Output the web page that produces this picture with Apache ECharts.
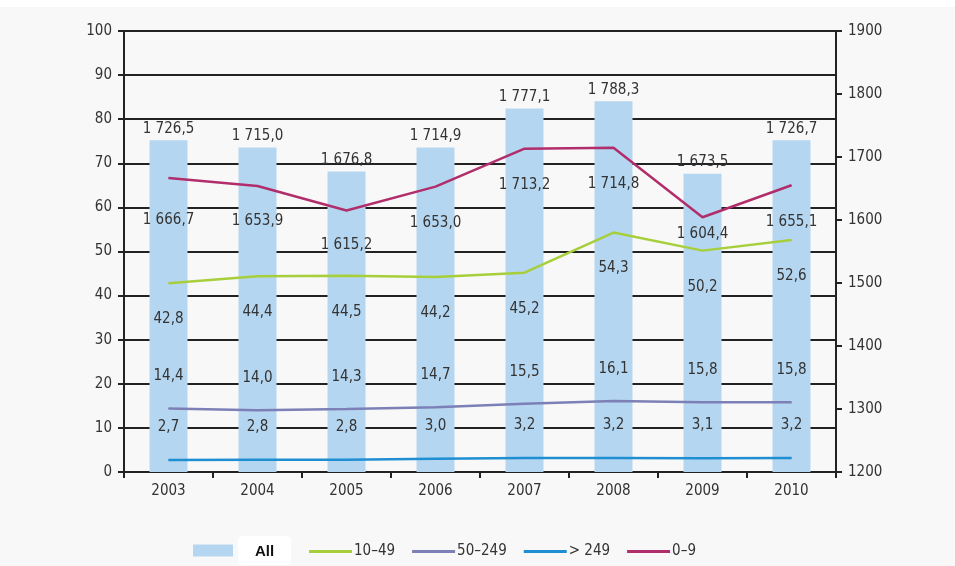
<!DOCTYPE html>
<html>
<head>
<meta charset="utf-8">
<script src="https://cdn.jsdelivr.net/npm/echarts@6/dist/echarts.min.js"></script>
<style>
  html, body { margin: 0; padding: 0; background: #f8f8f8; }
  #chart { width: 955px; height: 566px; }
</style>
</head>
<body>
<div id="chart"></div>
<script>
// Years on the category axis
const years = ['2003', '2004', '2005', '2006', '2007', '2008', '2009', '2010'];

// Totals (bars, right axis)
const allValues = [1726.5, 1715.0, 1676.8, 1714.9, 1777.1, 1788.3, 1673.5, 1726.7];

// Size classes (lines)
const size0to9 = [1666.7, 1653.9, 1615.2, 1653.0, 1713.2, 1714.8, 1604.4, 1655.1]; // right axis
const size10to49 = [42.8, 44.4, 44.5, 44.2, 45.2, 54.3, 50.2, 52.6];             // left axis
const size50to249 = [14.4, 14.0, 14.3, 14.7, 15.5, 16.1, 15.8, 15.8];            // left axis
const sizeOver249 = [2.7, 2.8, 2.8, 3.0, 3.2, 3.2, 3.1, 3.2];                    // left axis

// Axis tick values
const leftTicks = [0, 10, 20, 30, 40, 50, 60, 70, 80, 90, 100];
const rightTicks = [1200, 1300, 1400, 1500, 1600, 1700, 1800, 1900];

// Per-point label gap below the 0–9 line
const gap0to9 = [34, 27, 27, 28, 28, 28, 9, 29];

const FONT = "'Liberation Sans Narrow', 'DejaVu Sans Condensed', sans-serif";
const TEXT = '#333';

// European number format: "1 726,5"
function fmt(v) {
  const parts = v.toFixed(1).split('.');
  const intPart = parts[0].replace(/\B(?=(\d{3})+(?!\d))/g, ' ');
  return intPart + ',' + parts[1];
}

const chart = echarts.init(document.getElementById('chart'), null, { renderer: 'canvas' });

const labelBase = { show: true, color: TEXT, fontFamily: FONT, fontSize: 15, formatter: p => fmt(p.value) };

function lineSeries(name, axis, data, color, label) {
  return {
    name: name, type: 'line', yAxisIndex: axis, data: data,
    symbol: 'circle', symbolSize: 1, showSymbol: true,
    lineStyle: { color: color, width: 2.5 }, itemStyle: { color: color },
    label: Object.assign({}, labelBase, label),
    labelLayout: { hideOverlap: false },
    z: 3
  };
}

const option = {
  backgroundColor: '#f8f8f8',
  animation: false,
  graphic: [{
    type: 'rect', left: 0, top: 0, shape: { width: 955, height: 7 },
    style: { fill: '#ffffff' }, silent: true, z: -1
  }],
  grid: { left: 124, right: 119, top: 31, bottom: 94, containLabel: false },
  legend: [
    {
      data: [{ name: 'All', icon: 'rect' }],
      left: 188, top: 531,
      itemWidth: 40, itemHeight: 12, itemGap: 0,
      formatter: n => '{box|' + n + '}',
      textStyle: {
        rich: {
          box: {
            backgroundColor: '#ffffff', borderRadius: 5,
            padding: [8, 17, 6, 17], fontWeight: 'bold',
            fontSize: 15, color: '#111', fontFamily: "'Liberation Sans', Arial, sans-serif"
          }
        }
      }
    },
    {
      data: [
        { name: '10–49', icon: 'rect' },
        { name: '50–249', icon: 'rect' },
        { name: '> 249', icon: 'rect' },
        { name: '0–9', icon: 'rect' }
      ],
      left: 304, top: 539,
      itemWidth: 43, itemHeight: 3, itemGap: 17,
      textStyle: { color: TEXT, fontFamily: FONT, fontSize: 15, padding: [0, 0, 0, -3] }
    }
  ],
  xAxis: {
    type: 'category',
    data: years,
    boundaryGap: true,
    axisLine: { lineStyle: { color: '#222', width: 2 } },
    axisTick: { show: true, alignWithLabel: false, length: 6, lineStyle: { color: '#222', width: 2 } },
    axisLabel: { color: TEXT, fontFamily: FONT, fontSize: 15, margin: 12 },
    splitLine: { show: false }
  },
  yAxis: [
    {
      type: 'value', min: leftTicks[0], max: leftTicks[leftTicks.length - 1], interval: 10,
      axisLine: { show: true, lineStyle: { color: '#222', width: 2 } },
      axisTick: { show: true, length: 6, lineStyle: { color: '#222', width: 2 } },
      axisLabel: { color: TEXT, fontFamily: FONT, fontSize: 15, margin: 12, formatter: v => String(v) },
      splitLine: { show: true, lineStyle: { color: '#222', width: 2 } }
    },
    {
      type: 'value', min: rightTicks[0], max: rightTicks[rightTicks.length - 1], interval: 100,
      position: 'right',
      axisLine: { show: true, lineStyle: { color: '#222', width: 2 } },
      axisTick: { show: true, length: 6, lineStyle: { color: '#222', width: 2 } },
      axisLabel: { color: TEXT, fontFamily: FONT, fontSize: 15, margin: 12, formatter: v => String(v) },
      splitLine: { show: false }
    }
  ],
  series: [
    {
      name: 'All', type: 'bar', yAxisIndex: 1,
      data: allValues, barWidth: 38, clip: true, z: 1,
      itemStyle: { color: '#b5d6f0' },
      label: Object.assign({}, labelBase, { position: 'top', distance: 4 })
    },
    lineSeries('10–49', 0, size10to49, '#a7cf3c', { position: 'bottom', distance: 28 }),
    lineSeries('50–249', 0, size50to249, '#7c80b6', { position: 'top', distance: 24 }),
    lineSeries('> 249', 0, sizeOver249, '#1f8fd2', { position: 'top', distance: 25 }),
    lineSeries('0–9', 1, size0to9.map((v, i) => ({ value: v, label: { distance: gap0to9[i] } })),
      '#b02e6b', { position: 'bottom' })
  ]
};

chart.setOption(option);
</script>
</body>
</html>
